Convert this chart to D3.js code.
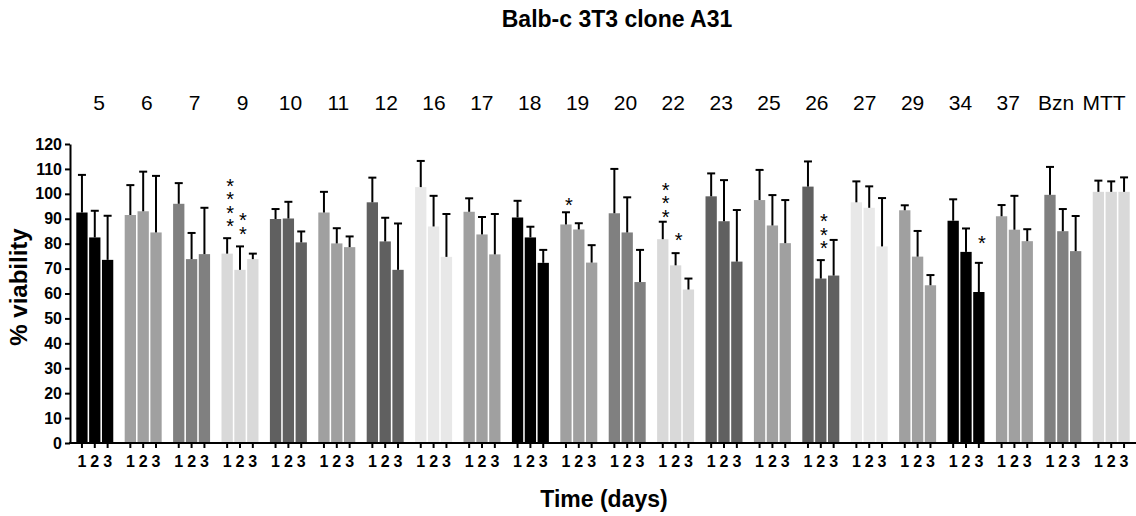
<!DOCTYPE html>
<html><head><meta charset="utf-8">
<script src="https://cdn.jsdelivr.net/npm/d3@7"></script>
<style>body{margin:0;background:#fff;}svg{display:block;}</style>
</head><body><svg id="c" width="1136" height="516"></svg>
<script>
// ---- data ----
const groups = ["5","6","7","9","10","11","12","16","17","18","19","20","22","23","25","26","27","29","34","37","Bzn","MTT"];
const subLabels = ["1","2","3"];
const mean1 = [92.5,91.5,96.0,76.0,89.9,92.5,96.6,102.7,92.8,90.5,87.7,92.2,81.8,99.0,97.5,102.9,96.6,93.4,89.2,91.0,99.6,100.8];
const mean2 = [82.5,93.0,73.8,69.5,90.1,80.1,80.9,86.9,83.7,82.5,85.7,84.5,71.3,89.0,87.3,66.0,94.4,74.8,76.7,85.6,85.0,100.8];
const mean3 = [73.5,84.5,75.8,73.8,80.5,78.6,69.5,74.7,75.7,72.3,72.4,64.6,61.6,72.8,80.2,67.2,78.9,63.3,60.6,81.0,77.0,100.8];
const sd1 = [15.1,12.0,8.3,6.2,4.0,8.3,9.9,10.5,5.4,6.7,4.9,17.8,7.0,9.2,12.1,10.1,8.4,2.0,8.6,4.5,11.2,4.5];
const sd2 = [10.7,15.9,10.5,9.4,6.7,6.1,9.5,12.3,7.0,4.3,2.5,14.1,4.9,16.5,12.2,7.4,8.6,10.3,9.4,13.6,8.9,4.2];
const sd3 = [17.7,22.7,18.6,2.2,4.4,4.3,18.6,17.2,16.2,5.2,7.0,12.9,4.4,20.7,17.3,14.3,19.4,4.1,11.7,4.8,14.1,5.8];
const groupShade = ["#000000","#a0a0a0","#808080","#d9d9d9","#606060","#a0a0a0","#606060","#e8e8e8","#a0a0a0","#000000","#a0a0a0","#808080","#d9d9d9","#606060","#a0a0a0","#606060","#e8e8e8","#a0a0a0","#000000","#a0a0a0","#808080","#d9d9d9"];
const yTicks = [0,10,20,30,40,50,60,70,80,90,100,110,120];
// significance marks: group, bar, number of stars, level (% viability) of lowest star
const starGroup = ["9","9","19","22","22","26","34"];
const starBar   = ["1","2","1","1","2","2","3"];
const starCount = [4,2,1,3,1,3,1];
const starLevel = [91.2,86.5,97.2,94.2,83.4,81.5,82.1];

const title = "Balb-c 3T3 clone A31";
const yTitle = "% viability";
const xTitle = "Time (days)";

// ---- layout ----
const svg = d3.select("#c");
const mL = 70, mR = 1136, mT = 144, mB = 443;
const FONT = "Liberation Sans, Arial, sans-serif";

const x = d3.scaleBand().domain(groups).range([mL, mR]).paddingInner(0.236).paddingOuter(0.13);
const xs = d3.scaleBand().domain(subLabels).range([0, x.bandwidth()]).paddingInner(0.12).paddingOuter(0);
const y = d3.scaleLinear().domain([0,120]).range([mB, mT]);
const xl = d3.scalePoint().domain(groups).range([99, 1104]);

const rows = [];
groups.forEach((g,i)=>{
  const m=[mean1[i],mean2[i],mean3[i]], s=[sd1[i],sd2[i],sd3[i]];
  subLabels.forEach((b,j)=>rows.push({g,b,mean:m[j],sd:s[j],color:groupShade[i]}));
});
const cx = d=>x(d.g)+xs(d.b)+xs.bandwidth()/2;

// bars
svg.append("g").selectAll("rect").data(rows).join("rect")
  .attr("x", d=>x(d.g)+xs(d.b))
  .attr("width", xs.bandwidth())
  .attr("y", d=>y(d.mean))
  .attr("height", d=>y(0)-y(d.mean))
  .attr("fill", d=>d.color);

// error bars
const eb = svg.append("g").attr("stroke","#000").attr("stroke-width",2);
eb.selectAll("line.v").data(rows).join("line").attr("class","v")
  .attr("x1", cx).attr("x2", cx)
  .attr("y1", d=>y(d.mean))
  .attr("y2", d=>y(d.mean+d.sd));
eb.selectAll("line.c").data(rows).join("line").attr("class","c")
  .attr("x1", d=>cx(d)-4).attr("x2", d=>cx(d)+4)
  .attr("y1", d=>y(d.mean+d.sd))
  .attr("y2", d=>y(d.mean+d.sd));

// y axis
const yAxis = svg.append("g").attr("transform",`translate(${mL},0)`)
  .call(d3.axisLeft(y).tickValues(yTicks).tickSize(5).tickSizeOuter(0));
yAxis.select(".domain").attr("stroke-width",2);
yAxis.selectAll(".tick line").attr("stroke-width",2);
yAxis.selectAll("text").attr("font-family",FONT)
  .attr("font-weight","bold").attr("font-size",16).attr("fill","#000").attr("x",-8);

// x axis line
svg.append("line").attr("x1",mL-1).attr("x2",mR).attr("y1",mB).attr("y2",mB)
  .attr("stroke","#000").attr("stroke-width",2);

// sub ticks and labels
const sub = svg.append("g");
sub.selectAll("line").data(rows).join("line")
  .attr("x1", cx).attr("x2", cx)
  .attr("y1", mB).attr("y2", mB+5)
  .attr("stroke","#000").attr("stroke-width",2);
sub.selectAll("text").data(rows).join("text")
  .attr("x", cx)
  .attr("y", mB+24)
  .attr("text-anchor","middle")
  .attr("font-family",FONT)
  .attr("font-weight","bold").attr("font-size",16)
  .text(d=>d.b);

// group labels on top
svg.append("g").selectAll("text").data(groups).join("text")
  .attr("x", d=>xl(d))
  .attr("y", 110)
  .attr("text-anchor","middle")
  .attr("font-family",FONT)
  .attr("font-size",21)
  .text(d=>d);

// stars: one vertical text per stack
const starStacks = starGroup.map((g,i)=>({g,b:starBar[i],n:starCount[i],level:starLevel[i]}));
const STEP = 11.5, SFS = 20;
svg.append("g").selectAll("text").data(starStacks).join("text")
  .attr("font-family",FONT)
  .attr("font-size",SFS)
  .style("writing-mode","vertical-rl")
  .style("text-orientation","upright")
  .style("letter-spacing",(STEP-SFS)+"px")
  .attr("text-anchor","start")
  .attr("x", d=>cx(d)+3)
  .attr("y", d=>y(d.level)-(d.n-1)*STEP-6.5)
  .text(d=>"*".repeat(d.n));

// titles
svg.append("text").attr("x",617).attr("y",27).attr("text-anchor","middle")
  .attr("font-family",FONT).attr("font-weight","bold").attr("font-size",23)
  .text(title);
svg.append("text").attr("x",604).attr("y",507).attr("text-anchor","middle")
  .attr("font-family",FONT).attr("font-weight","bold").attr("font-size",23)
  .text(xTitle);
svg.append("text").attr("transform","translate(27,287) rotate(-90)").attr("text-anchor","middle")
  .attr("font-family",FONT).attr("font-weight","bold").attr("font-size",24)
  .text(yTitle);
</script>
</body></html>
